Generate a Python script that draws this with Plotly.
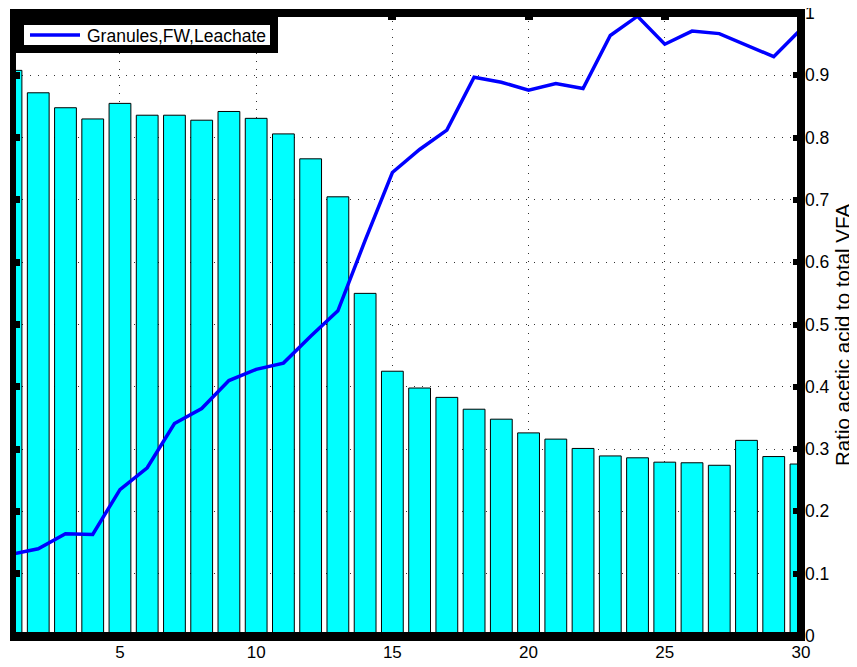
import plotly.graph_objects as go

days = list(range(1, 31))
bar_values = [0.908, 0.872, 0.848, 0.830, 0.855, 0.836, 0.836, 0.828, 0.842, 0.831,
              0.806, 0.766, 0.705, 0.550, 0.425, 0.398, 0.383, 0.364, 0.348, 0.326,
              0.316, 0.301, 0.289, 0.286, 0.279, 0.278, 0.274, 0.314, 0.288, 0.276]
ratio_values = [0.131, 0.140, 0.164, 0.163, 0.235, 0.270, 0.341, 0.365, 0.410, 0.428,
                0.438, 0.481, 0.522, 0.635, 0.744, 0.781, 0.812, 0.897, 0.889, 0.876,
                0.887, 0.879, 0.964, 0.995, 0.950, 0.971, 0.967, 0.948, 0.930, 0.974]
x_ticks = [5, 10, 15, 20, 25, 30]
y_ticks = [0, 0.1, 0.2, 0.3, 0.4, 0.5, 0.6, 0.7, 0.8, 0.9, 1]
series_name = "Granules,FW,Leachate"
y_title = "Ratio acetic acid to total VFA"

OFF = 8  # page body margin offset
W, H = 857 - OFF, 667 - OFF
L, R, T, B = 14 - OFF, 56, 13 - OFF, 31
PW, PH = W - L - R, H - T - B
FONT = "Liberation Sans, Arial, Helvetica, sans-serif"


def px(x):
    return (x - OFF - L) / PW


def py(y):
    return (H - B - (y - OFF)) / PH


fig = go.Figure()
fig.add_trace(go.Bar(x=days, y=bar_values, width=0.8,
                     marker=dict(color="#00FFFF", line=dict(color="black", width=1)),
                     showlegend=False, xaxis="x", yaxis="y"))
fig.add_trace(go.Scatter(x=days, y=ratio_values, mode="lines", name=series_name,
                         line=dict(color="#0000FF", width=3.5),
                         showlegend=False, xaxis="x2", yaxis="y2"))

xr = [1.11, 30.001]
yr = [-0.0001, 1.0001]
grid_dash = "1px,7px"
grid_col = "#333333"

shapes = []
# spines
for x0, x1, y0, y1 in [(10, 16, 9, 641), (10, 805, 9, 17), (797, 805, 9, 641), (10, 805, 632, 641)]:
    shapes.append(dict(type="rect", xref="paper", yref="paper", x0=px(x0), x1=px(x1),
                       y0=py(y1), y1=py(y0), fillcolor="black", line=dict(width=0), layer="above"))
# legend box
shapes.append(dict(type="rect", xref="paper", yref="paper", x0=px(20), x1=px(274),
                   y0=py(49), y1=py(21), fillcolor="white", line=dict(color="black", width=8),
                   layer="above"))
shapes.append(dict(type="line", xref="paper", yref="paper", x0=px(30), x1=px(80),
                   y0=py(35), y1=py(35), line=dict(color="#0000FF", width=3.5), layer="above"))

annotations = [
    dict(text=series_name, xref="paper", yref="paper", x=px(85), y=py(35.5),
         xanchor="left", yanchor="middle", showarrow=False,
         font=dict(family=FONT, size=17.5, color="black")),
    dict(text=y_title, xref="paper", yref="paper", x=px(843), y=py(335),
         xanchor="center", yanchor="middle", textangle=-90, showarrow=False,
         font=dict(family=FONT, size=20.5, color="black")),
]

common = dict(automargin=False, zeroline=False, showline=False)

fig.update_layout(
    template="none",
    width=W, height=H, autosize=False,
    margin=dict(l=L, r=R, t=T, b=B, pad=0, autoexpand=False),
    paper_bgcolor="white", plot_bgcolor="white",
    font=dict(family=FONT, size=17, color="black"),
    bargap=0.2,
    xaxis=dict(range=xr, tickvals=x_ticks, ticks="inside", ticklen=4, tickwidth=1,
               tickcolor="black", showgrid=True, gridcolor=grid_col, griddash=grid_dash,
               gridwidth=1, tickfont=dict(size=17), ticklabelstandoff=4, **common),
    xaxis2=dict(range=xr, tickvals=x_ticks, overlaying="x", side="top", anchor="y2",
                ticks="inside", ticklen=7, tickwidth=8, tickcolor="black",
                showticklabels=False, showgrid=False, **common),
    yaxis=dict(range=yr, tickvals=y_ticks, ticks="inside", ticklen=6, tickwidth=7,
               tickcolor="black", showticklabels=False, showgrid=False, **common),
    yaxis2=dict(range=yr, tickvals=y_ticks, overlaying="y", side="right", anchor="x",
                ticks="inside", ticklen=8, tickwidth=6, tickcolor="black",
                showgrid=True, gridcolor=grid_col, griddash=grid_dash, gridwidth=1,
                tickfont=dict(size=17.5), ticklabelstandoff=3,
                ticklabeloverflow="allow", **common),
    shapes=shapes,
    annotations=annotations,
)

fig.write_html("out.html")
